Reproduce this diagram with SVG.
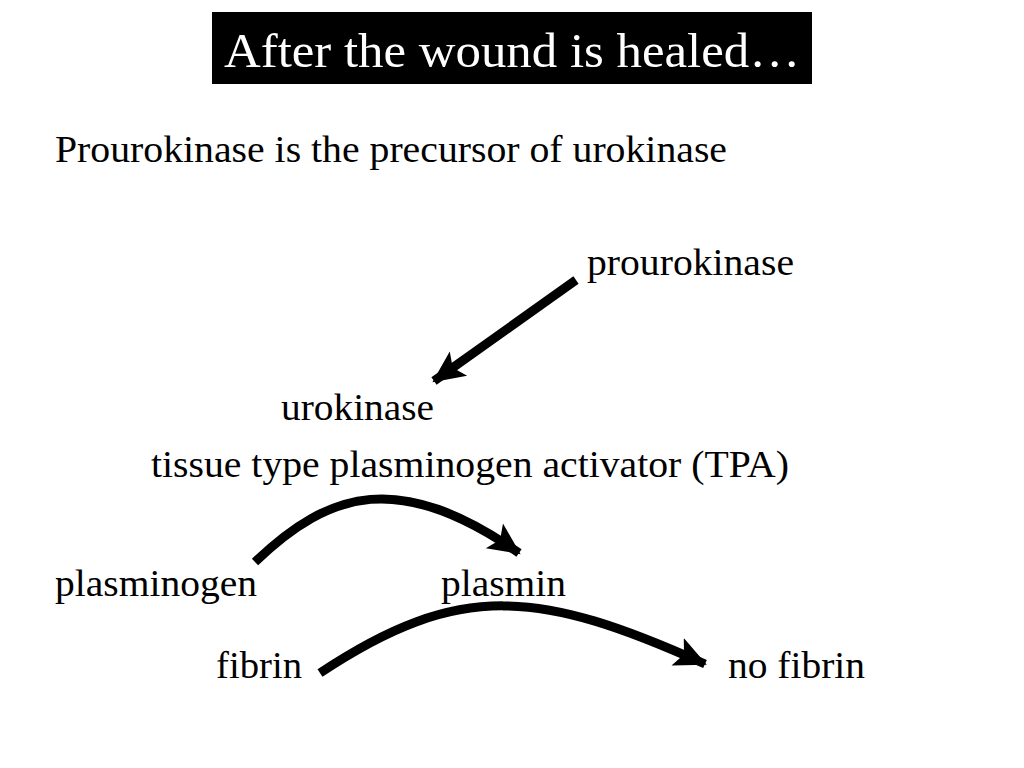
<svg xmlns="http://www.w3.org/2000/svg" width="1024" height="768" viewBox="0 0 1024 768">
<defs>
<style>
.t{font-family:"Liberation Serif","Times New Roman",serif;font-size:38px;fill:#000}
.c{fill:none;stroke:#000;stroke-width:9}
</style>
<marker id="ah" markerUnits="userSpaceOnUse" markerWidth="34" markerHeight="34" viewBox="0 0 34 34" refX="30" refY="17" orient="auto">
<path d="M0,2 L32,17 L0,32 L7,17 Z" fill="#000"/>
</marker>
</defs>
<rect width="1024" height="768" fill="#fff"/>
<g id="title">
<rect x="212" y="12" width="600" height="72" fill="#000"/>
<text x="224" y="67" textLength="576" lengthAdjust="spacingAndGlyphs" style="font-family:'Liberation Serif','Times New Roman',serif;font-size:48px;fill:#fff">After the wound is healed…</text>
</g>
<g id="subtitle"><text class="t" x="55" y="162" textLength="672" lengthAdjust="spacingAndGlyphs">Prourokinase is the precursor of urokinase</text></g>
<g id="prourokinase"><text class="t" x="587" y="275" textLength="207" lengthAdjust="spacingAndGlyphs">prourokinase</text></g>
<g id="urokinase"><text class="t" x="281" y="420" textLength="153" lengthAdjust="spacingAndGlyphs">urokinase</text></g>
<g id="tpa"><text class="t" x="151" y="477" textLength="638" lengthAdjust="spacingAndGlyphs">tissue type plasminogen activator (TPA)</text></g>
<g id="plasminogen"><text class="t" x="55" y="596" textLength="202" lengthAdjust="spacingAndGlyphs">plasminogen</text></g>
<g id="plasmin"><text class="t" x="441" y="596" textLength="125" lengthAdjust="spacingAndGlyphs">plasmin</text></g>
<g id="fibrin"><text class="t" x="216" y="678" textLength="86" lengthAdjust="spacingAndGlyphs">fibrin</text></g>
<g id="nofibrin"><text class="t" x="728" y="678" textLength="137" lengthAdjust="spacingAndGlyphs">no fibrin</text></g>
<g id="connectors">
<path class="c" d="M576,280 L434,381" marker-end="url(#ah)"/>
<path class="c" d="M255,562 C330,490 400,470 519,553" marker-end="url(#ah)"/>
<path class="c" d="M320,673 C460,580 540,590 705,664" marker-end="url(#ah)"/>
</g>
</svg>
